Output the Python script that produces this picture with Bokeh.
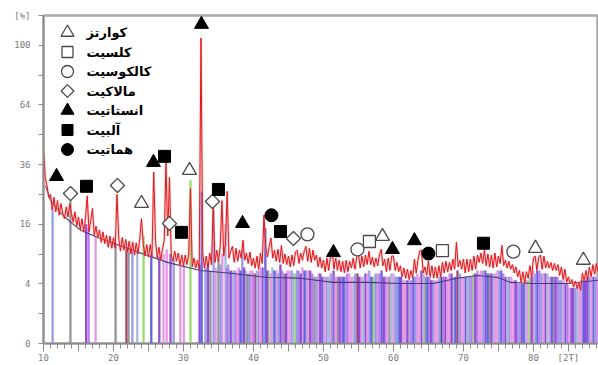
import numpy as np
from bokeh.plotting import figure
from bokeh.models import FixedTicker
from bokeh.core.properties import value
from bokeh.embed import file_html
from bokeh.resources import INLINE

# ---------------- data ----------------
trace_start = 10.0
trace_step = 0.25
trace_counts = [
    42, 31, 28, 24,          # 10
    25, 20, 24, 19.5,        # 11
    23, 18.5, 22, 19,        # 12
    17.5, 21, 18, 22,        # 13
    19, 16.5, 19.5, 15.5,    # 14
    18, 14.5, 17.5, 14,      # 15
    17.5, 24.5, 14, 17,      # 16
    20.5, 13, 15.5, 12.5,    # 17
    14.5, 11.5, 14, 11.2,    # 18
    13.2, 10.4, 13, 10.2,    # 19
    12.6, 10.2, 25, 12.5,    # 20
    9.6, 12.6, 9.8, 12.2,    # 21
    9.4, 11.8, 9.0, 11.6,    # 22
    8.8, 11.4, 9.0, 12.2,    # 23
    17.5, 11.2, 8.6, 11.0,   # 24
    8.4, 11.0, 8.3, 33,      # 25
    12, 8.2, 10.4, 7.8,      # 26
    10.0, 12, 37, 13,        # 27
    31, 8.6, 7.6, 9.6,       # 28
    7.6, 9.2, 6.8, 8.8,      # 29
    6.8, 8.8, 7.0, 9.0,      # 30
    27, 6.6, 8.2, 6.4,       # 31
    7.8, 6.2, 105, 9.2,      # 32
    6.4, 8.6, 6.4, 9.2,      # 33
    7.0, 21, 7.4, 9.8,       # 34
    7.6, 10.4, 23, 8.6,      # 35
    11.2, 26, 8.2, 9.6,      # 36
    10.6, 7.4, 10.2, 7.6,    # 37
    9.8, 8.2, 12, 7.8,       # 38
    9.2, 7.2, 9.4, 6.8,      # 39
    8.2, 6.4, 8.6, 6.2,      # 40
    9.2, 7.2, 18.5, 10.4,    # 41
    8.4, 10.6, 12.5, 8.2,    # 42
    9.8, 7.6, 10.0, 7.4,     # 43
    10.8, 7.2, 9.0, 7.0,     # 44
    8.6, 6.6, 8.8, 6.8,      # 45
    9.4, 9.8, 7.2, 9.2,      # 46
    7.8, 9.6, 10.6, 7.6,     # 47
    10.2, 7.4, 9.8, 7.8,     # 48
    8.8, 6.6, 8.4, 6.4,      # 49
    7.8, 5.8, 8.2, 6.0,      # 50
    8.4, 9.8, 6.2, 8.2,      # 51
    6.0, 7.8, 5.8, 7.6,      # 52
    5.6, 7.8, 5.8, 7.6,      # 53
    6.4, 8.2, 6.2, 8.4,      # 54
    9.0, 6.4, 8.6, 6.6,      # 55
    8.8, 7.0, 9.6, 7.0,      # 56
    8.4, 6.6, 8.2, 6.8,      # 57
    8.8, 10.0, 6.8, 8.0,     # 58
    5.8, 8.2, 6.0, 8.6,      # 59
    8.6, 6.0, 7.4, 5.8,      # 60
    6.8, 5.0, 6.4, 4.8,      # 61
    6.2, 4.6, 6.0, 4.8,      # 62
    8.0, 5.6, 7.8, 9.6,      # 63
    9.8, 5.6, 6.6, 5.2,      # 64
    7.6, 5.0, 6.8, 4.8,      # 65
    6.6, 4.8, 6.8, 5.0,      # 66
    7.4, 5.6, 7.6, 5.8,      # 67
    7.4, 6.0, 8.0, 6.2,      # 68
    11.5, 6.6, 7.8, 6.2,     # 69
    8.0, 5.6, 8.0, 5.8,      # 70
    8.0, 6.0, 8.6, 6.2,      # 71
    8.8, 7.4, 9.2, 7.2,      # 72
    9.8, 6.8, 9.0, 6.6,      # 73
    8.8, 6.4, 9.2, 6.6,      # 74
    8.6, 7.2, 10.8, 6.8,     # 75
    7.8, 6.4, 7.6, 6.2,      # 76
    7.0, 5.6, 6.6, 5.0,      # 77
    6.0, 4.2, 5.8, 4.0,      # 78
    5.8, 4.8, 6.8, 5.0,      # 79
    8.2, 8.6, 6.0, 8.4,      # 80
    8.8, 6.2, 8.6, 6.4,      # 81
    7.6, 6.4, 7.4, 6.0,      # 82
    7.2, 6.0, 7.0, 5.2,      # 83
    6.6, 4.6, 6.2, 4.2,      # 84
    5.0, 4.0, 4.6, 3.6,      # 85
    4.4, 3.4, 4.2, 3.2,      # 86
    5.6, 4.4, 6.0, 4.6,      # 87
    6.6, 5.0, 7.0, 5.4,      # 88
    7.2, 5.8, 7.0, 6.0,      # 89
]

background_2theta = [10.3, 11.0, 12.4, 13.9, 15.3, 18.1, 22.9, 27.7, 32.4, 37.1, 42.0,
                     46.7, 51.4, 56.3, 61.0, 65.7, 69.1, 72.0, 74.9, 76.7, 80.0, 84.9, 89.3]
background_counts = [28, 23, 19.3, 16.5, 14.4, 12.4, 9.7, 7.4, 6.0, 5.5, 4.9,
                     4.8, 4.2, 4.2, 4.05, 4.05, 4.8, 5.2, 4.9, 4.2, 4.05, 4.05, 4.5]

# reference-pattern sticks (first set)
stick_2theta = [11.3, 13.85, 16.1, 16.45, 17.45, 20.3, 21.85, 22.15, 22.7, 23.4, 24.3, 25.4,
                26.55, 27.15, 27.6, 28.15, 28.6, 29.55, 30.05, 31.0, 32.3, 32.6, 33.15, 33.85,
                34.3, 35.0, 35.55, 36.0, 36.4, 36.75, 37.4, 37.9, 38.4, 38.9, 39.15, 39.6,
                40.3, 40.7, 41.3, 41.7, 42.15, 42.7, 43.3, 43.85, 44.4, 44.85, 45.45, 46.0,
                46.45, 47.0, 47.55, 48.1, 48.7, 49.3, 49.85, 50.45, 51.0, 51.45, 52.0, 52.6,
                53.1, 53.7, 54.3, 54.85, 55.4, 56.0, 56.55, 57.15, 57.7, 58.3, 58.85, 59.4,
                60.0, 60.55, 61.1, 61.7, 62.3, 62.85, 63.4, 64.0, 64.55, 65.15, 65.7, 66.3,
                66.85, 67.4, 68.0, 68.55, 69.15, 69.7, 70.3, 70.85, 71.45, 72.0, 72.55, 73.15,
                73.7, 74.3, 74.85, 75.4, 76.0, 76.55, 77.15, 77.7, 78.3, 78.85, 79.45, 80.0,
                80.55, 81.15, 81.7, 82.3, 82.85, 83.45, 84.0, 84.55, 85.15, 85.7, 86.3, 86.85,
                87.4, 88.0, 88.55, 89.1]
stick_counts = [20, 23, 16, 15, 13, 11, 10, 10, 9.5, 9.5, 13, 9,
                8.5, 9, 10, 9, 8, 7, 7, 30, 7, 26, 6.5, 6,
                20, 8, 9, 16, 7, 6, 6, 6.5, 10, 6, 5.5, 6,
                5.5, 6, 6.5, 15, 6, 6.5, 6, 7, 5.5, 6, 6, 5.5,
                6, 6.5, 6, 6, 5, 5.5, 5, 5, 5.5, 6, 5, 5,
                5, 5.5, 5, 5.5, 5, 5.5, 6, 5, 5.5, 6, 5, 5,
                5.5, 5, 5, 4.5, 4.5, 5, 5.5, 6, 5, 5, 4.5, 4.5,
                5, 5, 5.5, 5, 6, 5, 5, 5, 5.5, 6, 6, 6,
                5.5, 5.5, 6, 6, 5, 5, 4.5, 4, 4, 4.5, 5, 6,
                6, 5.5, 5.5, 5, 5, 5, 4.5, 4, 3.5, 3.5, 3.5, 4.5,
                4.5, 5, 5, 5]
stick_kind = ["lav", "gray", "pur", "vio", "pink", "gray", "mar", "gray", "lav", "slate", "grn", "blu",
              "pur", "pink", "pink", "pur", "lav", "pink", "pink", "grn", "pur", "blu", "lav", "gray",
              "lav", "gray", "pink", "slate", "lav", "pur", "vio", "pink", "lav", "slate", "gray", "pink",
              "mar", "vio", "pur", "blu", "grn", "slate", "pink", "pur", "gray", "pink", "lav", "grn",
              "vio", "pink", "slate", "pur", "gray", "pink", "blu", "lav", "pink", "pur", "gray", "vio",
              "lav", "pink", "slate", "mar", "pink", "pur", "lav", "grn", "pink", "blu", "vio", "gray",
              "pink", "lav", "pur", "pink", "slate", "blu", "pink", "pur", "gray", "vio", "lav", "pink",
              "navy", "pur", "pink", "slate", "mar", "pink", "blu", "lav", "grn", "vio", "pink", "pur",
              "gray", "slate", "pink", "blu", "pur", "lav", "pink", "vio", "pur", "slate", "grn", "pink",
              "blu", "lav", "pur", "pink", "gray", "vio", "lav", "blu", "pink", "pur", "slate", "pink",
              "pur", "lav", "blu", "pink"]

# reference-pattern sticks (second, denser set above 33 deg)
stick2_2theta = [33.5, 34.6, 35.3, 36.2, 37.1, 37.65, 38.15, 38.65, 39.4, 39.85,
                 40.05, 40.5, 41.0, 41.5, 41.95, 42.45, 43.0, 43.6, 44.1, 44.65,
                 45.15, 45.7, 46.25, 46.75, 47.3, 47.8, 48.4, 49.0, 49.55, 50.15,
                 50.75, 51.25, 51.75, 52.3, 52.85, 53.4, 54.0, 54.55, 55.1, 55.7,
                 56.25, 56.85, 57.45, 58.0, 58.6, 59.15, 59.7, 60.3, 60.85, 61.4,
                 62.0, 62.55, 63.1, 63.7, 64.3, 64.85, 65.4, 66.0, 66.6, 67.15,
                 67.7, 68.3, 68.85, 69.45, 70.0, 70.6, 71.15, 71.7, 72.3, 72.85,
                 73.45, 74.0, 74.55, 75.15, 75.7, 76.3, 76.85, 77.45, 78.0, 78.6,
                 79.15, 79.75, 80.3, 80.85, 81.45, 82.0, 82.6, 83.15, 83.75, 84.3,
                 84.85, 85.45, 86.0, 86.6, 87.15, 87.7, 88.3, 88.85]
stick2_counts = [7, 6.5, 7, 6.5, 6, 5.5, 6, 6.5, 5.5, 6,
                 5.5, 6, 6.5, 6, 6, 5.5, 6, 5.5, 6, 5.5,
                 6, 5.5, 6, 5.5, 6, 6, 5.5, 5, 5.5, 5,
                 5, 5.5, 5, 5, 5, 5.5, 5, 5.5, 5, 5,
                 5.5, 5, 5.5, 5.5, 5, 5, 5.5, 5, 5, 4.5,
                 4.5, 4.5, 5, 5, 5.5, 5, 4.5, 4.5, 5, 5,
                 5, 5.5, 5, 5.5, 5, 5, 5, 5.5, 5.5, 6,
                 5.5, 5.5, 5.5, 6, 5.5, 5, 5, 4.5, 4, 4,
                 4.5, 5, 5.5, 6, 5.5, 5.5, 5, 5, 4.5, 4.5,
                 4, 3.5, 3.5, 4, 4.5, 5, 5, 5]
stick2_kind = ["pur", "pink", "lav", "vio", "slate", "pink", "blu", "pur", "lav", "pink",
               "vio", "slate", "pink", "lav", "pur", "pink", "blu", "lav", "vio", "pur",
               "pink", "slate", "lav", "pur", "blu", "pink", "vio", "lav", "pur", "pink",
               "slate", "lav", "pink", "pur", "blu", "vio", "pink", "lav", "pur", "slate",
               "pink", "blu", "lav", "vio", "pur", "pink", "slate", "lav", "blu", "pink",
               "pur", "vio", "lav", "pink", "slate", "blu", "pur", "pink", "lav", "vio",
               "pink", "pur", "blu", "lav", "pink", "slate", "vio", "pur", "pink", "lav",
               "blu", "pur", "pink", "lav", "vio", "slate", "pink", "pur", "lav", "blu",
               "pink", "pur", "lav", "vio", "pink", "slate", "blu", "pur", "lav", "pink",
               "vio", "pur", "lav", "pink", "blu", "pur", "pink", "lav"]

stick_palette = {"gray": "#8e8e8e", "pur": "#8c44d2", "vio": "#b676ee", "pink": "#e294e2",
                 "lav": "#9296e4", "slate": "#a8b4d8", "blu": "#5c5ce0", "grn": "#94d868",
                 "mar": "#a23a5a", "navy": "#3a3a70"}

phase_names = ["کوارتز", "کلسیت", "کالکوسیت", "مالاکیت", "انستاتیت", "آلبیت", "هماتیت"]
phase_markers = ["triangle", "square", "circle", "diamond", "triangle", "square", "circle"]
phase_filled = [False, False, False, False, True, True, True]
phase_2theta = [
    [24.0, 30.86, 58.43, 80.29, 87.14],            # quartz
    [56.57, 67.0],                                 # calcite
    [47.71, 54.86, 77.14],                         # chalcocite
    [13.86, 20.57, 28.0, 34.14, 45.71],            # malachite
    [11.86, 25.71, 32.57, 38.43, 51.43, 59.86, 63.0],  # enstatite
    [16.14, 27.29, 29.71, 35.0, 43.86, 72.86],     # albite
    [42.57, 65.0],                                 # hematite
]
phase_counts = [
    [22.1, 33.7, 12.9, 10.2, 7.8],
    [11.7, 9.7],
    [13.4, 9.95, 9.5],
    [25.3, 28.1, 16.2, 22.7, 12.4],
    [31.4, 36.9, 114.6, 16.2, 9.3, 9.95, 11.9],
    [27.8, 39.4, 13.9, 26.7, 14.1, 11.3],
    [18.5, 9.1],
]

y_tick_labels = [0, 4, 16, 36, 64, 100]
y_minor_values = [1, 9, 25, 49, 81]
y_top_value = 121
x_label_ticks = [10, 20, 30, 40, 50, 60, 70, 80]
x_unit_label = "[2Ŧ]"
y_unit_label = "[%]"

# ---------------- layout constants (pixels) ----------------
W, H = 598, 365
LEFT, TOP, BOTTOM = 43, 15, 22
X0, X1 = 10.0, 89.3
Y1 = float(np.sqrt(y_top_value))
frame_w = W - LEFT
frame_h = H - TOP - BOTTOM
LEG_X, LEG_Y0, LEG_DY, LEG_TEXT_X = 67, 32, 19.5, 86


def px_to_x(px):
    return X0 + (px - LEFT) * (X1 - X0) / frame_w


def py_to_y(py):
    return (H - BOTTOM - py) * Y1 / frame_h


# marker glyph styles: (bokeh marker, size, angle)
marker_style = {"triangle": ("triangle", 14, 0.0), "square": ("square", 12, 0.0),
                "circle": ("circle", 13, 0.0), "diamond": ("square", 10, np.pi / 4)}

# ---------------- figure ----------------
p = figure(width=W, height=H, x_range=(X0, X1), y_range=(0, Y1),
           output_backend="svg", toolbar_location=None,
           min_border_left=LEFT, min_border_right=0, min_border_top=TOP, min_border_bottom=BOTTOM)
p.background_fill_color = "white"
p.border_fill_color = "white"
p.outline_line_color = "#a8a8a8"
p.outline_line_width = 2.5
p.xgrid.visible = False
p.ygrid.visible = False

# sticks
for xs, cs, ks in ((stick_2theta, stick_counts, stick_kind), (stick2_2theta, stick2_counts, stick2_kind)):
    p.segment(x0=xs, y0=[0] * len(xs), x1=xs, y1=np.sqrt(cs).tolist(),
              line_color=[stick_palette[k] for k in ks], line_width=2.3, line_alpha=0.95)

# background curve
p.line(background_2theta, np.sqrt(background_counts).tolist(), line_color="#463a78", line_width=1.1)

# measured trace
tt = (trace_start + trace_step * np.arange(len(trace_counts))).tolist()
ty = np.sqrt(trace_counts).tolist()
p.line(tt, ty, line_color="#f29a9a", line_width=2.5, line_alpha=0.45)
p.line(tt, ty, line_color="#e3161c", line_width=1)

# phase markers + hand-made legend
for i, (name, mk, filled, xs, cs) in enumerate(zip(phase_names, phase_markers, phase_filled,
                                                    phase_2theta, phase_counts)):
    if filled:
        style = dict(fill_color="black", line_color="black", line_width=1)
    else:
        style = dict(fill_color="white", line_color="#4a4a4a", line_width=1.3)
    bm, sz, ang = marker_style[mk]
    p.scatter(xs, np.sqrt(cs).tolist(), marker=bm, size=sz, angle=ang, **style)
    ly = py_to_y(LEG_Y0 + i * LEG_DY)
    p.scatter([px_to_x(LEG_X)], [ly], marker=bm, size=sz - 1, angle=ang, **style)
    p.text([px_to_x(LEG_TEXT_X)], [ly], text=[name], text_font=value("DejaVu Sans"),
           text_font_style="bold", text_font_size="13px", text_color="black",
           text_align="left", text_baseline="middle")

# axes
x_major = list(range(10, 90, 5))
p.xaxis.ticker = FixedTicker(ticks=x_major, minor_ticks=list(range(10, 90)))
x_over = {t: "" for t in x_major}
for t in x_label_ticks:
    x_over[t] = str(t)
x_over[85] = x_unit_label
p.xaxis.major_label_overrides = x_over

y_major = np.sqrt(y_tick_labels).tolist() + [Y1]
p.yaxis.ticker = FixedTicker(ticks=y_major, minor_ticks=np.sqrt(y_minor_values).tolist())
y_over = {float(np.sqrt(v)): str(v) for v in y_tick_labels}
y_over[Y1] = y_unit_label
p.yaxis.major_label_overrides = y_over

for ax in (p.xaxis, p.yaxis):
    ax.axis_line_color = "#8c8c8c"
    ax.axis_line_width = 1.5
    ax.major_tick_line_color = "#8c8c8c"
    ax.minor_tick_line_color = "#8c8c8c"
    ax.major_tick_in = 0
    ax.minor_tick_in = 0
    ax.major_label_text_font = "DejaVu Sans Mono"
    ax.major_label_text_font_size = "9px"
    ax.major_label_text_color = "#7a7a7a"

p.xaxis.major_tick_out = 8
p.xaxis.minor_tick_out = 5
p.xaxis.major_label_standoff = 1
p.yaxis.major_tick_out = 5
p.yaxis.minor_tick_out = 5
p.yaxis.major_label_standoff = 8

open("out.html", "w").write(file_html(p, INLINE))
